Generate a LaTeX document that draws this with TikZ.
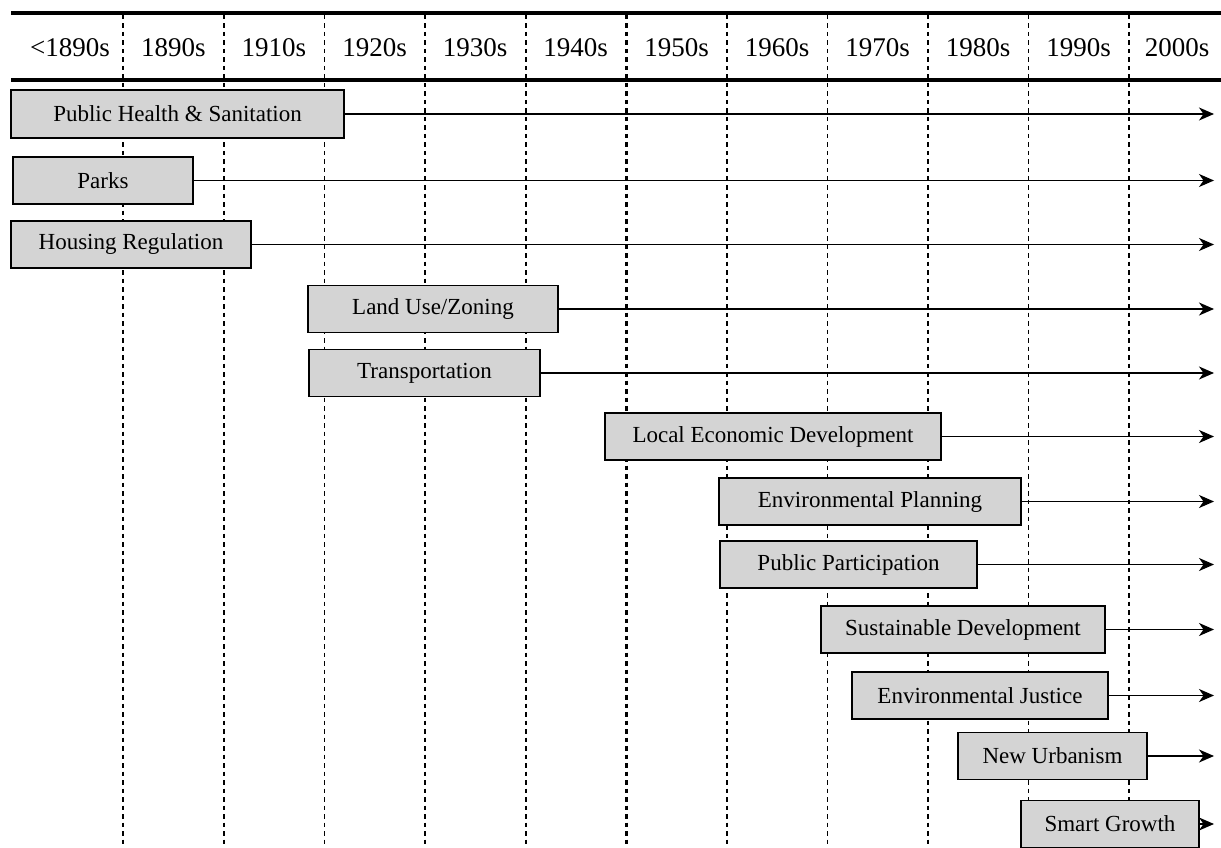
\documentclass[tikz,border=0pt]{standalone}
\usepackage{fontspec}
\setmainfont{Liberation Serif}
\usetikzlibrary{arrows.meta}
\definecolor{boxgray}{RGB}{212,212,212}
\tikzset{
  grid/.style={line width=1.8pt, dash pattern=on 4.5pt off 4pt},
  gridthick/.style={line width=2.6pt, dash pattern=on 4.5pt off 4pt},
  rule/.style={line width=4pt},
  hdr/.style={anchor=base, inner sep=0pt, font=\fontsize{27}{30}\selectfont},
  box/.style={draw, line width=1.6pt, fill=boxgray, inner sep=0pt, minimum height=47pt,
    font=\fontsize{23}{26}\selectfont},
  arr/.style={line width=1.5pt, -{Stealth[length=15pt,width=13pt,inset=4.5pt]}}
}
\begin{document}
\begin{tikzpicture}[x=1pt,y=-1pt]
\useasboundingbox (0,0) rectangle (1221,848);
% vertical dashed grid lines
\foreach \x in {123,224,324.5,425,526,727,827.5,928,1028.5}
  \draw[grid] (\x,15) -- (\x,848);
\foreach \x in {626.5,1129}
  \draw[gridthick] (\x,15) -- (\x,848);
% header rules
\draw[rule] (11,13) -- (1221,13);
\draw[rule] (11,80) -- (1221,80);
% header labels
\node[hdr] (h0) at (70,57) {<1890s};
\node[hdr] (h1) at (173.5,57) {1890s};
\node[hdr] (h2) at (274,57) {1910s};
\node[hdr] (h3) at (374.5,57) {1920s};
\node[hdr] (h4) at (475,57) {1930s};
\node[hdr] (h5) at (575.5,57) {1940s};
\node[hdr] (h6) at (676.5,57) {1950s};
\node[hdr] (h7) at (777,57) {1960s};
\node[hdr] (h8) at (877.5,57) {1970s};
\node[hdr] (h9) at (978,57) {1980s};
\node[hdr] (h10) at (1078.5,57) {1990s};
\node[hdr] (h11) at (1177,57) {2000s};
% boxes
\node[box, minimum width=333pt, minimum height=48pt] (ph) at (177.5,114) {Public Health \& Sanitation};
\node[box, minimum width=180pt] (pk) at (103,180.5) {Parks};
\node[box, minimum width=240pt] (hr) at (131,244.5) {Housing Regulation};
\node[box, minimum width=250pt] (lu) at (433,309) {Land Use/Zoning};
\node[box, minimum width=231pt] (tr) at (424.5,373) {Transportation};
\node[box, minimum width=336pt] (led) at (773,436.5) {Local Economic Development};
\node[box, minimum width=302pt] (ep) at (870,501.5) {Environmental Planning};
\node[box, minimum width=257pt] (pp) at (848.5,564.5) {Public Participation};
\node[box, minimum width=284pt] (sd) at (963,629.5) {Sustainable Development};
\node[box, minimum width=256pt] (ej) at (980,695.5) {Environmental Justice};
\node[box, minimum width=189pt] (nu) at (1052.5,756) {New Urbanism};
\node[box, minimum width=178pt] (sg) at (1110,824) {Smart Growth};
% arrow end points
\coordinate (eph) at (1214,114);
\coordinate (epk) at (1214,180.5);
\coordinate (ehr) at (1214,244.5);
\coordinate (elu) at (1214,309);
\coordinate (etr) at (1214,373);
\coordinate (eled) at (1214,436.5);
\coordinate (eep) at (1214,501.5);
\coordinate (epp) at (1214,564.5);
\coordinate (esd) at (1214,629.5);
\coordinate (eej) at (1214,695.5);
\coordinate (enu) at (1214,756);
\coordinate (esg) at (1214,824);
% arrows
\draw[arr] (ph.east) -- (eph);
\draw[arr] (pk.east) -- (epk);
\draw[arr] (hr.east) -- (ehr);
\draw[arr] (lu.east) -- (elu);
\draw[arr] (tr.east) -- (etr);
\draw[arr] (led.east) -- (eled);
\draw[arr] (ep.east) -- (eep);
\draw[arr] (pp.east) -- (epp);
\draw[arr] (sd.east) -- (esd);
\draw[arr] (ej.east) -- (eej);
\draw[arr] (nu.east) -- (enu);
\draw[arr] (sg.east) -- (esg);
\end{tikzpicture}
\end{document}
